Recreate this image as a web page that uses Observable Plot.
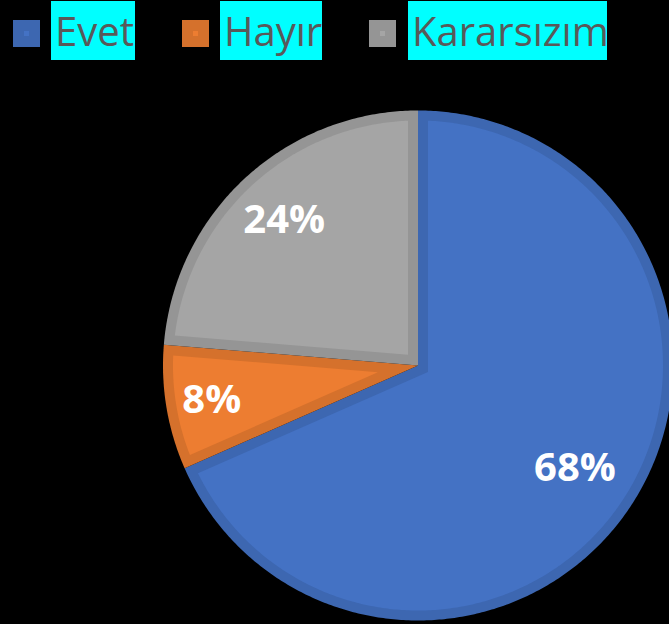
<!DOCTYPE html>
<html>
<head>
<meta charset="utf-8">
<script src="https://cdn.jsdelivr.net/npm/d3@7"></script>
<script src="https://cdn.jsdelivr.net/npm/@observablehq/plot@0.6"></script>
<style>
  html, body { margin: 0; padding: 0; background: #000; width: 669px; height: 624px; overflow: hidden; }
  #legend { position: relative; height: 62px; width: 669px; font-family: "Open Sans", sans-serif; }
  .sw { position: absolute; top: 20px; width: 27px; height: 27px; }
  .sw i { position: absolute; left: 11px; top: 11px; width: 5px; height: 5px; }
  .lab { position: absolute; top: 1px; height: 59px; line-height: 59px; background: #00FFFF; color: #595959; font-size: 40px; padding-left: 4px; box-sizing: border-box; white-space: nowrap; }
  #chart svg { display: block; }
</style>
</head>
<body>
<div id="legend"></div>
<div id="chart"></div>
<script>
const categories = ["Evet", "Hayır", "Kararsızım"];
const values = [68.4, 7.9, 23.7];
const labels = ["68%", "8%", "24%"];
const fillColors = ["#4472C4", "#ED7D31", "#A5A5A5"];
const borderColors = ["#3D67B1", "#D5712C", "#959595"];

// Layout
const legendLayout = [
  {sw: 13, box: 51, w: 84},
  {sw: 182, box: 220, w: 102},
  {sw: 369, box: 408, w: 199}
];
const labelRadius = [0.735, 0.82, 0.774];

const legend = document.getElementById("legend");
categories.forEach((c, i) => {
  const sw = document.createElement("div");
  sw.className = "sw";
  sw.style.left = legendLayout[i].sw + "px";
  sw.style.background = borderColors[i];
  const inner = document.createElement("i");
  inner.style.background = fillColors[i];
  sw.appendChild(inner);
  legend.appendChild(sw);
  const lab = document.createElement("div");
  lab.className = "lab";
  lab.style.left = legendLayout[i].box + "px";
  lab.style.width = legendLayout[i].w + "px";
  lab.textContent = c;
  legend.appendChild(lab);
});

// Pie geometry (unit circle, angles clockwise from 12 o'clock)
const R_PX = 255;
const inset = 10 / R_PX;
const total = d3.sum(values);
let acc = 0;
const slices = categories.map((name, i) => {
  const a0 = acc / total * 2 * Math.PI;
  acc += values[i];
  const a1 = acc / total * 2 * Math.PI;
  return {name, i, a0, a1};
});
const pt = (a, r) => [Math.sin(a) * r, Math.cos(a) * r];

const outerPts = [];
const innerPts = [];
for (const s of slices) {
  outerPts.push({name: s.name, c: borderColors[s.i], p: [0, 0]});
  const n = Math.max(8, Math.ceil((s.a1 - s.a0) / 0.01));
  for (let k = 0; k <= n; k++) {
    const a = s.a0 + (s.a1 - s.a0) * k / n;
    outerPts.push({name: s.name, c: borderColors[s.i], p: pt(a, 1)});
  }
  const th = s.a1 - s.a0;
  const mid = (s.a0 + s.a1) / 2;
  const rho = 1 - inset;
  const del = Math.asin(inset / rho);
  innerPts.push({name: s.name, c: fillColors[s.i], p: pt(mid, inset / Math.sin(th / 2))});
  for (let k = 0; k <= n; k++) {
    const a = s.a0 + del + (th - 2 * del) * k / n;
    innerPts.push({name: s.name, c: fillColors[s.i], p: pt(a, rho)});
  }
}
const labelData = slices.map(s => {
  const m = (s.a0 + s.a1) / 2;
  const [x, y] = pt(m, labelRadius[s.i]);
  return {x, y, text: labels[s.i]};
});

const cx = 417.5, cy = 303; // pixel centre inside svg
const chart = Plot.plot({
  width: 669,
  height: 562,
  margin: 0,
  style: {background: "#000", overflow: "hidden"},
  x: {domain: [-1, 1], range: [cx - R_PX, cx + R_PX], axis: null},
  y: {domain: [-1, 1], range: [cy + R_PX, cy - R_PX], axis: null},
  color: {type: "identity"},
  marks: [
    Plot.line(outerPts, {x: d => d.p[0], y: d => d.p[1], z: "name", fill: "c", stroke: null, curve: "linear-closed"}),
    Plot.line(innerPts, {x: d => d.p[0], y: d => d.p[1], z: "name", fill: "c", stroke: null, curve: "linear-closed"}),
    Plot.text(labelData, {x: "x", y: "y", text: "text", fill: "white", fontSize: 40, fontWeight: "bold", fontFamily: "Open Sans", textAnchor: "middle", lineAnchor: "middle"})
  ]
});
document.getElementById("chart").appendChild(chart);
</script>
</body>
</html>
